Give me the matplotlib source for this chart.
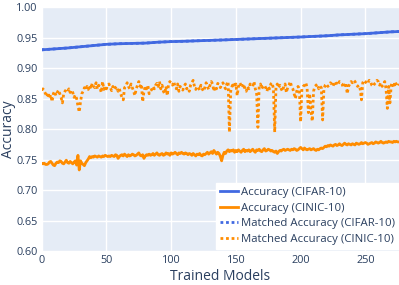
import numpy as np
import matplotlib
matplotlib.use("Agg")
import matplotlib.pyplot as plt
from matplotlib.ticker import FormatStrFormatter

plt.rcParams['font.family'] = ['Open Sans', 'DejaVu Sans']

# CIFAR-10 accuracy, read every 10 models (smooth curve)
cifar_x = [0, 10, 20, 30, 40, 50, 60, 70, 80, 90, 100, 110, 120, 130, 140,
           150, 160, 170, 180, 190, 200, 210, 220, 230, 240, 250, 260, 270, 276]
cifar_acc = [0.930, 0.9315, 0.933, 0.935, 0.937, 0.939, 0.940, 0.9405, 0.941, 0.9425,
             0.9435, 0.944, 0.9448, 0.9455, 0.9462, 0.947, 0.9478, 0.9486, 0.9494, 0.9502,
             0.951, 0.952, 0.953, 0.9545, 0.9555, 0.9565, 0.958, 0.9595, 0.960]
cifar_matched = [0.930, 0.9315, 0.933, 0.935, 0.937, 0.939, 0.940, 0.9405, 0.941, 0.9425,
                 0.9435, 0.944, 0.9448, 0.9455, 0.9462, 0.947, 0.9478, 0.9486, 0.9494, 0.9502,
                 0.951, 0.952, 0.953, 0.9545, 0.9555, 0.9565, 0.958, 0.9595, 0.960]

# CINIC-10 accuracy, one value per trained model (0..276)
cinic_acc = [
    .744, .743, .744, .742, .742, .743, .746, .747, .744, .741,
    .740, .744, .746, .745, .748, .747, .744, .743, .746, .749,
    .745, .744, .747, .745, .743, .746, .748, .741, .757, .733,
    .748, .744, .742, .740, .745, .748, .751, .755, .753, .755,
    .754, .756, .755, .754, .756, .755, .754, .756, .755, .757,
    .756, .755, .756, .755, .757, .756, .755, .758, .757, .752,
    .755, .757, .758, .756, .759, .757, .755, .758, .756, .757,
    .759, .758, .756, .757, .759, .761, .757, .756, .758, .752,
    .756, .758, .757, .759, .757, .758, .760, .757, .759, .761,
    .758, .757, .759, .760, .757, .758, .761, .759, .760, .757,
    .761, .759, .760, .762, .760, .758, .761, .760, .762, .760,
    .759, .761, .760, .758, .760, .759, .757, .760, .758, .756,
    .759, .758, .760, .757, .756, .759, .758, .760, .762, .759,
    .761, .763, .760, .765, .762, .759, .762, .760, .755, .748,
    .757, .762, .760, .764, .766, .763, .765, .764, .766, .762,
    .765, .763, .766, .764, .762, .765, .767, .763, .765, .764,
    .766, .763, .765, .767, .764, .762, .766, .765, .767, .764,
    .763, .766, .768, .764, .765, .767, .766, .764, .765, .763,
    .762, .764, .760, .763, .765, .764, .766, .767, .765, .766,
    .767, .766, .765, .767, .766, .768, .767, .765, .766, .768,
    .770, .768, .766, .769, .767, .766, .767, .768, .766, .767,
    .768, .766, .765, .767, .766, .768, .769, .768, .770, .772,
    .771, .773, .772, .774, .773, .772, .774, .775, .773, .774,
    .776, .774, .773, .775, .777, .775, .774, .776, .775, .774,
    .776, .775, .774, .777, .776, .775, .776, .778, .776, .777,
    .778, .777, .775, .776, .777, .778, .776, .777, .779, .778,
    .777, .778, .780, .778, .777, .778, .779, .778, .780, .779,
    .779, .778, .780, .779, .780, .779, .779,
]

cinic_matched = [
    .864, .866, .862, .858, .853, .860, .850, .856, .845, .858,
    .862, .855, .860, .864, .858, .852, .843, .858, .862, .865,
    .862, .866, .860, .864, .860, .852, .856, .850, .838, .828,
    .845, .858, .862, .868, .864, .870, .865, .872, .866, .875,
    .870, .868, .876, .866, .872, .868, .860, .878, .865, .870,
    .866, .872, .874, .868, .863, .870, .865, .868, .870, .862,
    .866, .858, .852, .848, .868, .870, .876, .870, .866, .874,
    .868, .862, .855, .866, .872, .878, .870, .874, .845, .862,
    .870, .866, .872, .858, .862, .865, .870, .866, .872, .875,
    .870, .878, .866, .872, .862, .858, .870, .855, .874, .878,
    .876, .872, .878, .870, .866, .874, .862, .870, .866, .864,
    .870, .874, .866, .868, .862, .872, .876, .880, .870, .865,
    .870, .868, .864, .872, .866, .862, .868, .876, .870, .865,
    .872, .878, .874, .862, .870, .866, .875, .872, .868, .872,
    .876, .870, .866, .874, .878, .795, .862, .870, .876, .868,
    .874, .855, .870, .876, .872, .868, .874, .866, .862, .870,
    .866, .874, .872, .870, .878, .866, .860, .803, .870, .874,
    .866, .870, .872, .868, .862, .870, .866, .874, .876, .866,
    .795, .870, .874, .868, .872, .866, .862, .870, .874, .860,
    .868, .872, .878, .870, .866, .858, .850, .862, .870, .866,
    .812, .866, .870, .872, .876, .868, .827, .858, .830, .813,
    .862, .870, .872, .874, .866, .870, .868, .815, .866, .872,
    .874, .870, .872, .876, .874, .870, .876, .878, .872, .874,
    .878, .876, .874, .868, .872, .876, .858, .870, .874, .878,
    .876, .880, .878, .874, .870, .872, .866, .848, .876, .880,
    .878, .874, .876, .880, .878, .872, .870, .874, .876, .880,
    .878, .872, .876, .870, .874, .878, .866, .834, .870, .843,
    .872, .876, .868, .878, .872, .870, .874,
]

models = np.arange(len(cinic_acc))

BLUE = '#4169E1'
ORANGE = '#FF8C00'
TXT = '#2a3f5f'

fig = plt.figure(figsize=(3.99, 2.85), dpi=100)
ax = fig.add_axes([0.1045, 0.119, 0.8955, 0.856])
ax.set_facecolor('#E5ECF6')

ax.plot(cifar_x, cifar_acc, color=BLUE, lw=2, label='Accuracy (CIFAR-10)')
ax.plot(models, cinic_acc, color=ORANGE, lw=2, label='Accuracy (CINIC-10)')
ax.plot(cifar_x, cifar_matched, color=BLUE, lw=2, ls=(0, (1, 1)),
        label='Matched Accuracy (CIFAR-10)')
ax.plot(models, cinic_matched, color=ORANGE, lw=2, ls=(0, (1, 1)),
        label='Matched Accuracy (CINIC-10)')

ax.set_xlim(0, 276)
ax.set_ylim(0.6, 1.0)
ax.set_xticks([0, 50, 100, 150, 200, 250])
ax.set_yticks(np.arange(0.6, 1.001, 0.05))
ax.yaxis.set_major_formatter(FormatStrFormatter('%.2f'))
ax.grid(color='white', lw=1)
ax.set_axisbelow(True)
for s in ax.spines.values():
    s.set_visible(False)
ax.tick_params(length=0, labelsize=7.8, labelcolor=TXT, pad=3)
ax.set_xlabel('Trained Models', fontsize=10, color=TXT, labelpad=2)
ax.set_ylabel('Accuracy', fontsize=10, color=TXT, va='center')
ax.yaxis.set_label_coords(-0.093, 0.5)

leg = ax.legend(loc='lower right', bbox_to_anchor=(1.0, 0.008), fontsize=8.2,
                frameon=True, fancybox=False, framealpha=1, edgecolor='white',
                handlelength=1.55, handletextpad=0.3, labelspacing=0.42,
                borderpad=0.35, borderaxespad=0.0)
for t in leg.get_texts():
    t.set_color(TXT)

plt.savefig('out.png', dpi=100)
